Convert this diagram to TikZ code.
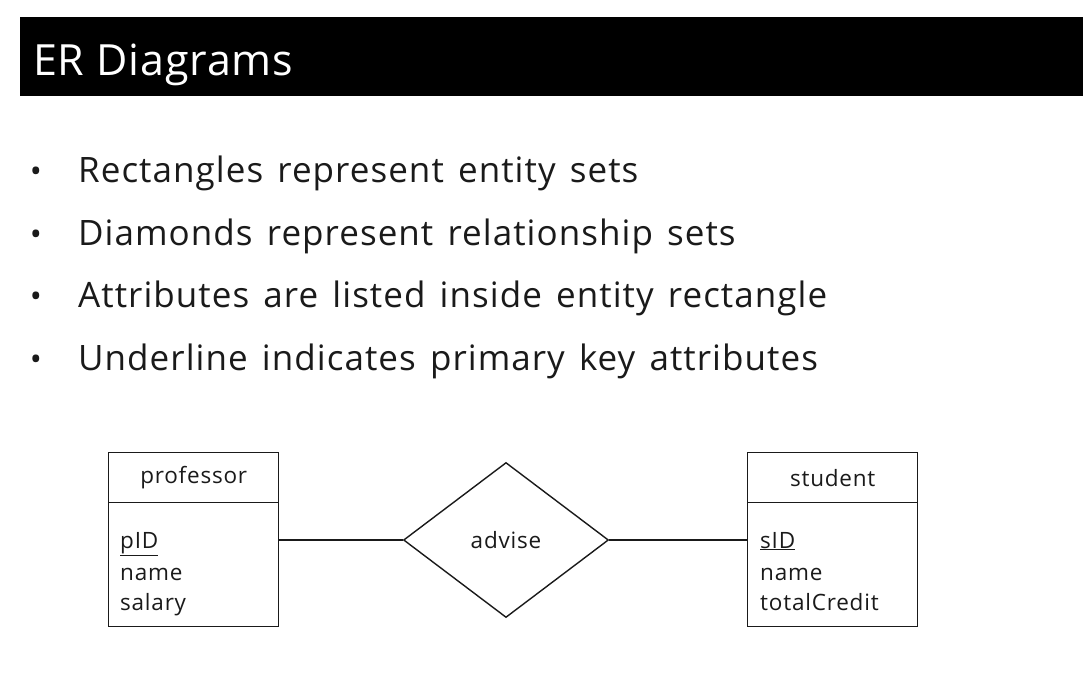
\documentclass[tikz,border=0pt]{standalone}
\usepackage{fontspec}
\setmainfont{Open Sans}
\newfontfamily\bulletfont[LetterSpace=3,WordSpace=1.4]{Open Sans}
\newfontfamily\titlefont[LetterSpace=2]{Open Sans}
\newfontfamily\diagfont[LetterSpace=3.5]{Open Sans}
\usetikzlibrary{shapes.geometric}
\definecolor{ink}{HTML}{1A1A1A}
\begin{document}
\begin{tikzpicture}[x=1pt,y=-1pt,
  bullettext/.style={anchor=base west,inner sep=0,text=ink,font=\bulletfont\fontsize{35}{41}\selectfont},
  bulletdot/.style={anchor=base,inner sep=0,text=ink,font=\fontsize{32}{38}\selectfont},
  hdr/.style={draw=ink,line width=1.4pt,minimum width=170,minimum height=50,inner sep=0,anchor=north west,text=ink,font=\diagfont\fontsize{22.5}{27}\selectfont},
  bodybox/.style={draw=ink,line width=1.4pt,minimum width=170,minimum height=124,inner sep=0,anchor=north west},
  attr/.style={anchor=base west,inner sep=0,text=ink,font=\diagfont\fontsize{22.5}{27}\selectfont},
  rel/.style={diamond,draw=ink,line width=1.4pt,aspect=1.32,minimum width=205,minimum height=155,inner sep=0,text=ink,font=\diagfont\fontsize{22.5}{27}\selectfont},
  link/.style={draw=ink,line width=1.4pt}]
\useasboundingbox (0,0) rectangle (1092,680);
\fill[white] (0,0) rectangle (1092,680);
% title bar
\node[fill=black,minimum width=1063,minimum height=79,inner sep=0,anchor=north west] (bar) at (20,17) {};
\node[anchor=base west,inner sep=0,text=white,font=\titlefont\fontsize{43}{49}\selectfont] (title) at (33,75) {ER Diagrams};
% bullets
\node[bulletdot] (b1) at (36,182) {•};
\node[bullettext] (t1) at (78,182) {Rectangles represent entity sets};
\node[bulletdot] (b2) at (36,245) {•};
\node[bullettext] (t2) at (78,245) {Diamonds represent relationship sets};
\node[bulletdot] (b3) at (36,307) {•};
\node[bullettext] (t3) at (78,307) {Attributes are listed inside entity rectangle};
\node[bulletdot] (b4) at (36,370) {•};
\node[bullettext] (t4) at (78,370) {Underline indicates primary key attributes};
% professor
\node[hdr] (profh) at (108,452) {professor};
\node[bodybox] (profb) at (108,502) {};
\node[attr] (p1) at (120,548) {\underline{pID}};
\node[attr] (p2) at (120,580) {name};
\node[attr] (p3) at (120,610) {salary};
% student
\node[hdr] (studh) at (747,452) {student};
\node[bodybox] (studb) at (747,502) {};
\node[attr] (s1) at (760,548) {\underline{sID}};
\node[attr] (s2) at (760,580) {name};
\node[attr] (s3) at (760,610) {totalCredit};
% relationship
\node[rel] (adv) at (506,540) {advise};
\coordinate (pl) at (278,540);
\coordinate (sl) at (747,540);
\draw[link] (pl) -- (adv.west);
\draw[link] (adv.east) -- (sl);
\end{tikzpicture}
\end{document}
